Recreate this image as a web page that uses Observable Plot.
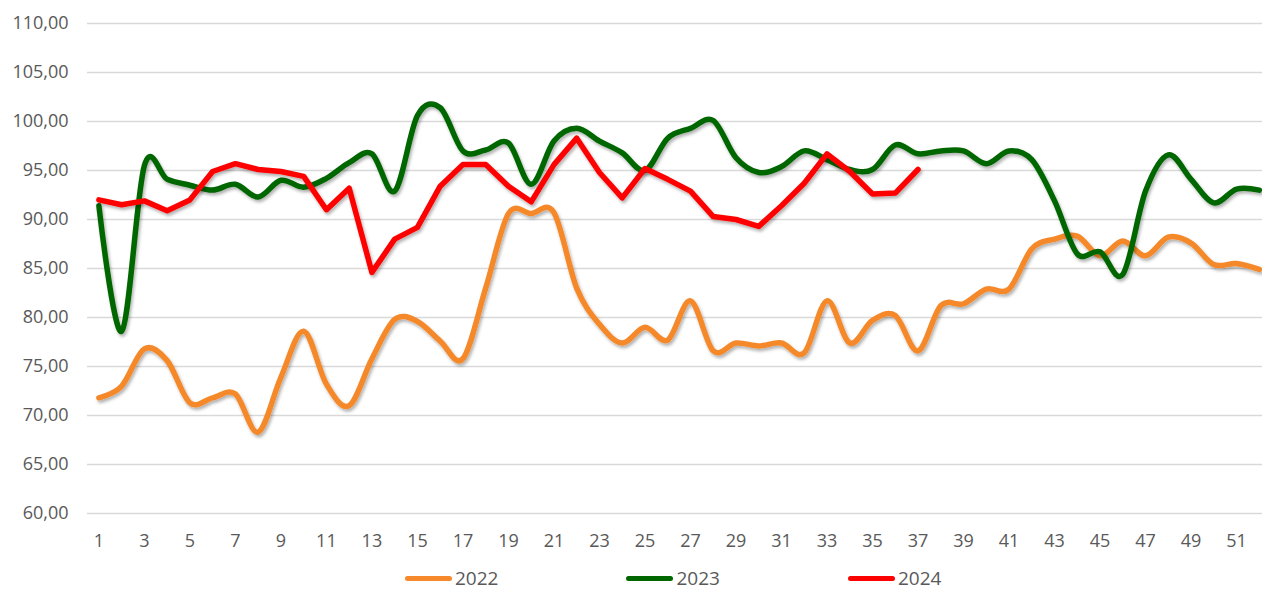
<!DOCTYPE html>
<html><head><meta charset="utf-8">
<script src="https://cdn.jsdelivr.net/npm/d3@7"></script>
<script src="https://cdn.jsdelivr.net/npm/@observablehq/plot@0.6"></script>
<style>
body{margin:0;background:#fff;font-family:"Open Sans",sans-serif;}
#chart{width:1262px;height:590px;position:relative;overflow:hidden;background:#fff}
#legend{position:absolute;top:567px;left:405px;height:22px;display:flex;gap:128px}
.item{height:22px;line-height:22px;display:flex;align-items:center;font-size:19px;color:#595959}
.sw{width:47px;height:5px;border-radius:3px;margin-right:3px}
</style></head><body><div id="chart"></div>
<script>
const years = ["2022", "2023", "2024"];
const colors = ["#F5892B", "#006600", "#FF0000"];
const v2022 = [71.8, 73.0, 76.8, 75.6, 71.3, 71.8, 72.2, 68.3, 73.9, 78.6,
  73.2, 71.0, 75.8, 79.8, 79.6, 77.6, 75.8, 83.0, 90.6, 90.6,
  90.7, 83.0, 79.3, 77.4, 79.0, 77.7, 81.7, 76.6, 77.4, 77.1,
  77.4, 76.4, 81.7, 77.4, 79.7, 80.2, 76.6, 81.2, 81.4, 82.9,
  82.9, 87.0, 88.0, 88.3, 86.3, 87.8, 86.3, 88.2, 87.6, 85.4,
  85.5, 84.9];
const v2023 = [91.4, 78.6, 95.5, 94.1, 93.5, 93.0, 93.6, 92.3, 94.0, 93.3,
  94.2, 95.8, 96.7, 92.9, 100.6, 101.4, 97.0, 97.1, 97.8, 93.6,
  98.0, 99.3, 98.0, 96.8, 95.0, 98.3, 99.3, 100.1, 96.3, 94.8,
  95.4, 97.0, 96.1, 95.1, 95.1, 97.6, 96.7, 97.0, 97.0, 95.7,
  97.0, 96.1, 91.9, 86.5, 86.7, 84.4, 92.9, 96.6, 94.1, 91.7,
  93.1, 93.0];
const v2024 = [92.0, 91.5, 91.9, 90.9, 92.0, 94.9, 95.7, 95.1, 94.9, 94.4,
  91.0, 93.2, 84.6, 88.0, 89.2, 93.4, 95.6, 95.6, 93.4, 91.8,
  95.6, 98.3, 94.8, 92.2, 95.2, 94.1, 92.9, 90.3, 90.0, 89.3,
  91.4, 93.7, 96.7, 94.9, 92.6, 92.7, 95.1];
const yTicks = [60, 65, 70, 75, 80, 85, 90, 95, 100, 105, 110];
const xTicks = [1,3,5,7,9,11,13,15,17,19,21,23,25,27,29,31,33,35,37,39,41,43,45,47,49,51];

const toRows = vals => vals.map((v, i) => ({week: i + 1, value: v}));
const fmt = d => d3.format(".2f")(d).replace(".", ",");

const plot = Plot.plot({
  width: 1262, height: 560,
  marginLeft: 87, marginRight: 0, marginTop: 23, marginBottom: 47,
  style: {fontFamily: '"Open Sans", sans-serif', fontSize: "18px", color: "#595959", background: "#fff"},
  x: {type: "linear", domain: [0.5, 52.14], ticks: xTicks, tickSize: 0, tickPadding: 21, tickFormat: d => String(d), label: null},
  y: {domain: [60, 110], ticks: yTicks, tickSize: 0, tickPadding: 19, tickFormat: fmt, label: null},
  marks: [
    Plot.ruleY(yTicks, {stroke: "#d9d9d9", strokeWidth: 1.5}),
    Plot.line(toRows(v2022), {x: "week", y: "value", stroke: colors[0], strokeWidth: 5.5, curve: "cardinal"}),
    Plot.line(toRows(v2023), {x: "week", y: "value", stroke: colors[1], strokeWidth: 5.5, curve: "cardinal"}),
    Plot.line(toRows(v2024), {x: "week", y: "value", stroke: colors[2], strokeWidth: 5.5, curve: "linear"})
  ]
});

const svg = d3.select(plot);
const defs = svg.insert("defs", ":first-child");
defs.append("filter").attr("id", "ds").attr("x", "-5%").attr("y", "-5%").attr("width", "110%").attr("height", "120%")
  .append("feDropShadow").attr("dx", 1.5).attr("dy", 2.5).attr("stdDeviation", 1.5)
  .attr("flood-color", "#000").attr("flood-opacity", 0.3);
svg.selectAll('g[aria-label="line"]').attr("filter", "url(#ds)");

const chart = document.getElementById("chart");
chart.appendChild(plot);
const legend = document.createElement("div");
legend.id = "legend";
years.forEach((y, i) => {
  const it = document.createElement("div");
  it.className = "item";
  const sw = document.createElement("span");
  sw.className = "sw";
  sw.style.background = colors[i];
  const t = document.createElement("span");
  t.textContent = y;
  it.appendChild(sw); it.appendChild(t);
  legend.appendChild(it);
});
chart.appendChild(legend);
</script>
</body></html>
